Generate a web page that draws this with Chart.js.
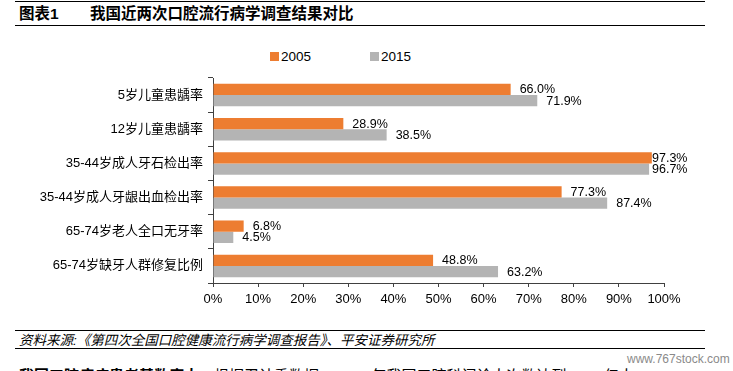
<!DOCTYPE html>
<html>
<head>
<meta charset="utf-8">
<script src="https://cdn.jsdelivr.net/npm/chart.js@4.4.1/dist/chart.umd.min.js"></script>
<style>
    body { margin: 0; width: 733px; height: 371px; overflow: hidden; background: #fff;
           font-family: "Liberation Sans", Arial, "Noto Sans CJK SC", sans-serif; position: relative; }
    .rule { position: absolute; left: 15px; width: 690px; border-top: 1.5px solid #000; }
    #title { position: absolute; left: 19px; top: 4px; font-size: 15.5px; font-weight: bold; line-height: 20px; }
    #title span { position: absolute; left: 71px; white-space: nowrap; }
    #legend { position: absolute; top: 49px; left: 270px; font-size: 13.5px; }
    #legend .item { position: absolute; white-space: nowrap; line-height: 16px; }
    #legend i { display: inline-block; width: 9px; height: 9px; margin-right: 2px; vertical-align: 0px; }
    #chartBox { position: absolute; left: 0; top: 40px; width: 700px; height: 280px; }
    #source { position: absolute; left: 19px; top: 332px; font-size: 13.5px; font-style: italic; line-height: 17px; white-space: nowrap; }
    #body { position: absolute; left: 19px; top: 366px; font-size: 15px; white-space: nowrap; line-height: 20px; }
    #mark { position: absolute; left: 627px; top: 352px; font-size: 12px; color: #8a8a8a; }
</style>
</head>
<body>
<div class="rule" style="top:1px"></div>
<div id="title">图表1<span>我国近两次口腔流行病学调查结果对比</span></div>
<div class="rule" style="top:25px"></div>

<div id="legend">
    <div class="item" style="left:0"><i style="background:#ED7D31"></i>2005</div>
    <div class="item" style="left:100px"><i style="background:#B4B4B4"></i>2015</div>
</div>

<div id="chartBox"><canvas id="chart"></canvas></div>

<div class="rule" style="top:330px"></div>
<div id="source">资料来源:《第四次全国口腔健康流行病学调查报告》、平安证券研究所</div>
<div class="rule" style="top:348px"></div>
<div id="mark">www.767stock.com</div>
<div id="body"><b>我国口腔疾病患者基数庞大：</b>根据卫计委数据，2017 年我国口腔科门诊人次数达到 1.44 亿人</div>

<script>
const categories = [
    '5岁儿童患龋率',
    '12岁儿童患龋率',
    '35-44岁成人牙石检出率',
    '35-44岁成人牙龈出血检出率',
    '65-74岁老人全口无牙率',
    '65-74岁缺牙人群修复比例'
];
const values2005 = [66.0, 28.9, 97.3, 77.3, 6.8, 48.8];
const values2015 = [71.9, 38.5, 96.7, 87.4, 4.5, 63.2];
const xTicks = [0, 10, 20, 30, 40, 50, 60, 70, 80, 90, 100];

const FONT = '"Liberation Sans", Arial, "Noto Sans CJK SC", sans-serif';

// value labels at the end of each bar
const barLabels = {
    id: 'barLabels',
    afterDatasetsDraw(chart) {
        const ctx = chart.ctx;
        ctx.save();
        ctx.font = '12.5px ' + FONT;
        ctx.fillStyle = '#000';
        ctx.textBaseline = 'middle';
        ctx.textAlign = 'left';
        chart.data.datasets.forEach((ds, i) => {
            chart.getDatasetMeta(i).data.forEach((bar, j) => {
                const x = Math.min(bar.x + 9, chart.chartArea.right - 12);
                ctx.fillText(ds.data[j].toFixed(1) + '%', x, bar.y + 0.5);
            });
        });
        ctx.restore();
    }
};

new Chart(document.getElementById('chart'), {
    type: 'bar',
    data: {
        labels: categories,
        datasets: [
            { label: '2005', data: values2005, backgroundColor: '#ED7D31' },
            { label: '2015', data: values2015, backgroundColor: '#B4B4B4' }
        ]
    },
    options: {
        indexAxis: 'y',
        responsive: true,
        maintainAspectRatio: false,
        animation: false,
        layout: { padding: { top: 38, right: 36, bottom: 0, left: 0 } },
        datasets: { bar: { categoryPercentage: 0.66, barPercentage: 1 } },
        plugins: { legend: { display: false }, tooltip: { enabled: false } },
        scales: {
            y: {
                afterFit: s => { s.width = 213; },
                border: { color: '#404040', width: 1 },
                grid: { drawOnChartArea: false, tickLength: 5, color: '#404040', offset: true },
                ticks: { color: '#000', padding: 5, font: { size: 13, family: FONT } }
            },
            x: {
                min: 0,
                max: 100,
                afterFit: s => { s.height = 37; },
                afterBuildTicks: s => { s.ticks = xTicks.map(v => ({ value: v })); },
                border: { color: '#404040', width: 1 },
                grid: { drawOnChartArea: false, tickLength: 4, color: '#404040' },
                ticks: { color: '#000', padding: 5, maxRotation: 0, font: { size: 13, family: FONT },
                         callback: v => v + '%' }
            }
        }
    },
    plugins: [barLabels]
});
</script>
</body>
</html>
